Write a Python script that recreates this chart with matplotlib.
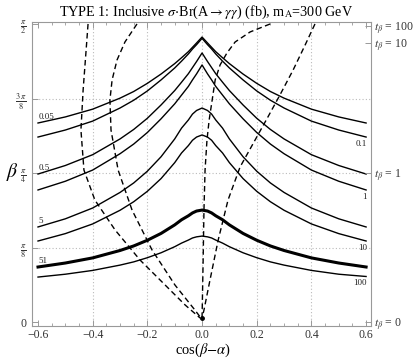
import numpy as np
import matplotlib
matplotlib.use('Agg')
import matplotlib.pyplot as plt

plt.rcParams['font.family'] = ['Liberation Serif', 'DejaVu Serif']
plt.rcParams['mathtext.fontset'] = 'stix'

# ---- data ----
x_pts = [-0.6, -0.5, -0.4, -0.3, -0.25, -0.2, -0.15, -0.1, -0.075, -0.05, -0.035, -0.02, 0.0,
         0.02, 0.035, 0.05, 0.075, 0.1, 0.15, 0.2, 0.25, 0.3, 0.4, 0.5, 0.6]

beta_005 = [1.049, 1.081, 1.122, 1.180, 1.215, 1.258, 1.307, 1.362, 1.393, 1.425, 1.448, 1.471, 1.502,
            1.471, 1.448, 1.425, 1.393, 1.362, 1.307, 1.258, 1.215, 1.180, 1.122, 1.081, 1.049]
beta_01 = [0.975, 1.012, 1.059, 1.128, 1.169, 1.218, 1.276, 1.339, 1.375, 1.413, 1.439, 1.462, 1.495,
           1.462, 1.439, 1.413, 1.375, 1.339, 1.276, 1.218, 1.169, 1.128, 1.059, 1.012, 0.975]
beta_05 = [0.780, 0.825, 0.882, 0.965, 1.015, 1.074, 1.144, 1.220, 1.264, 1.309, 1.341, 1.373, 1.418,
           1.373, 1.341, 1.309, 1.264, 1.220, 1.144, 1.074, 1.015, 0.965, 0.882, 0.825, 0.780]
beta_1 = [0.696, 0.742, 0.801, 0.887, 0.938, 0.999, 1.071, 1.150, 1.196, 1.242, 1.276, 1.308, 1.355,
          1.308, 1.276, 1.242, 1.196, 1.150, 1.071, 0.999, 0.938, 0.887, 0.801, 0.742, 0.696]
beta_5 = [0.501, 0.544, 0.601, 0.683, 0.733, 0.795, 0.871, 0.965, 1.022, 1.065, 1.096, 1.115, 1.128,
          1.115, 1.096, 1.065, 1.022, 0.965, 0.871, 0.795, 0.733, 0.683, 0.601, 0.544, 0.501]
beta_10 = [0.427, 0.466, 0.517, 0.589, 0.634, 0.689, 0.756, 0.840, 0.891, 0.930, 0.958, 0.975, 0.986,
           0.975, 0.958, 0.930, 0.891, 0.840, 0.756, 0.689, 0.634, 0.589, 0.517, 0.466, 0.427]
beta_51 = [0.290, 0.311, 0.338, 0.377, 0.401, 0.431, 0.467, 0.512, 0.539, 0.560, 0.575, 0.585, 0.590,
           0.585, 0.575, 0.560, 0.539, 0.512, 0.467, 0.431, 0.401, 0.377, 0.338, 0.311, 0.290]
beta_100 = [0.237, 0.252, 0.272, 0.300, 0.317, 0.339, 0.365, 0.397, 0.416, 0.432, 0.443, 0.449, 0.453,
            0.449, 0.443, 0.432, 0.416, 0.397, 0.365, 0.339, 0.317, 0.300, 0.272, 0.252, 0.240]

contour_levels = ['0.05', '0.1', '0.5', '1', '5', '10', '51', '100']
contour_betas = [beta_005, beta_01, beta_05, beta_1, beta_5, beta_10, beta_51, beta_100]
label_left = ['0.05', '0.5', '5', '51']
label_right = ['0.1', '1', '10', '100']

# dashed curves (x, beta)
dashA_x = [-0.417, -0.424, -0.435, -0.443, -0.432, -0.392, -0.318, -0.227, -0.135, -0.062, -0.007]
dashA_b = [1.571, 1.434, 1.223, 1.012, 0.801, 0.643, 0.485, 0.327, 0.195, 0.090, 0.021]
dashB_x = [-0.238, -0.282, -0.311, -0.329, -0.337, -0.333, -0.307, -0.256, -0.183, -0.099, -0.026, -0.004]
dashB_b = [1.571, 1.476, 1.381, 1.276, 1.170, 1.012, 0.801, 0.590, 0.380, 0.195, 0.063, 0.021]
dashC_x = [0.249, 0.176, 0.121, 0.091, 0.066, 0.048, 0.037, 0.026, 0.018, 0.011, 0.007, 0.004, 0.0]
dashC_b = [1.571, 1.529, 1.476, 1.418, 1.355, 1.276, 1.170, 1.065, 0.959, 0.801, 0.590, 0.327, 0.021]
dashD_x = [0.413, 0.377, 0.333, 0.285, 0.241, 0.190, 0.139, 0.095, 0.059, 0.029, 0.007, 0.0]
dashD_b = [1.571, 1.460, 1.328, 1.197, 1.081, 0.949, 0.817, 0.643, 0.432, 0.221, 0.063, 0.021]

x_ticks = [-0.6, -0.4, -0.2, 0.0, 0.2, 0.4, 0.6]
x_ticklabels = ['\u22120.6', '\u22120.4', '\u22120.2', '0.0', '0.2', '0.4', '0.6']
y_ticks = [0, np.pi / 8, np.pi / 4, 3 * np.pi / 8, np.pi / 2]
y_ticklabels = ['0', r'$\frac{\pi}{8}$', r'$\frac{\pi}{4}$', r'$\frac{3\,\pi}{8}$', r'$\frac{\pi}{2}$']
tb_values = [0, 1, 10, 100]
tb_labels = [r'$t_\beta$ = 0', r'$t_\beta$ = 1', r'$t_\beta$ = 10', r'$t_\beta$ = 100']

# ---- figure ----
fig = plt.figure(figsize=(4.15, 3.59), dpi=100)
ax = fig.add_axes([0.0771, 0.0919, 0.8169, 0.8468])
ax.set_xlim(-0.622, 0.618)
ax.set_ylim(-0.021, 1.5813)

gray = '#999999'
for gx in [-0.4, -0.2, 0.0, 0.2, 0.4]:
    ax.axvline(gx, color='#bbbbbb', lw=0.8, ls=(0, (1, 2)), zorder=0)
for gy in [np.pi / 8, np.pi / 4, 3 * np.pi / 8]:
    ax.axhline(gy, color='#bbbbbb', lw=0.8, ls=(0, (1, 2)), zorder=0)

for lev, b in zip(contour_levels, contour_betas):
    lw = 2.2 if lev == '51' else 1.0
    ax.plot(x_pts, b, color='black', lw=lw, zorder=3, solid_joinstyle='round')

for lev, b in zip(contour_levels, contour_betas):
    if lev in label_left:
        ax.text(x_pts[0] + 0.003, b[0] + 0.012, lev, fontsize=6.5, ha='left', va='bottom', color='#222222')
    else:
        ax.text(x_pts[-1] + 0.003, b[-1] - 0.015, lev, fontsize=6.5, ha='right', va='top', color='#222222')

for dx, db in [(dashA_x, dashA_b), (dashB_x, dashB_b), (dashC_x, dashC_b), (dashD_x, dashD_b)]:
    ax.plot(dx, db, color='black', lw=1.0, ls=(0, (4, 2.5)), zorder=2)
ax.plot([0.0], [0.021], 'o', color='black', ms=2.5, zorder=4)

for s in ax.spines.values():
    s.set_color(gray)
    s.set_linewidth(0.8)

ax.set_xticks(x_ticks)
ax.set_xticklabels(x_ticklabels, fontsize=8.5, color='#333333')
ax.set_xticks(np.arange(-0.6, 0.61, 0.05), minor=True)
ax.set_yticks(y_ticks)
ax.set_yticklabels(y_ticklabels, fontsize=8.5, color='#333333')
ax.tick_params(axis='both', which='both', direction='in', color=gray, top=True)
ax.tick_params(which='major', length=4, width=0.7)
ax.tick_params(which='minor', length=2, width=0.6)
ax.tick_params(axis='x', pad=2)
ax.tick_params(axis='y', pad=4)

ax2 = ax.twinx()
ax2.set_ylim(ax.get_ylim())
ax2.set_yticks(np.arctan(tb_values))
ax2.set_yticklabels(tb_labels, fontsize=8.5, color='#333333')
ax2.tick_params(axis='y', direction='in', color=gray, length=4, width=0.7, pad=2)
for s in ax2.spines.values():
    s.set_visible(False)

fig.text(0.49, 0.024, r'cos($\beta$$-$$\alpha$)', fontsize=10.5, ha='center', va='center')
fig.text(0.031, 0.52, r'$\beta$', fontsize=14, ha='center', va='center')
fig.text(0.497, 0.966, r'TYPE 1: Inclusive $\sigma$$\cdot$Br(A$\rightarrow$$\gamma\gamma$) (fb), m$_{\rm A}$=300 GeV',
         fontsize=10.2, ha='center', va='center')

fig.savefig('out.png', dpi=100)
